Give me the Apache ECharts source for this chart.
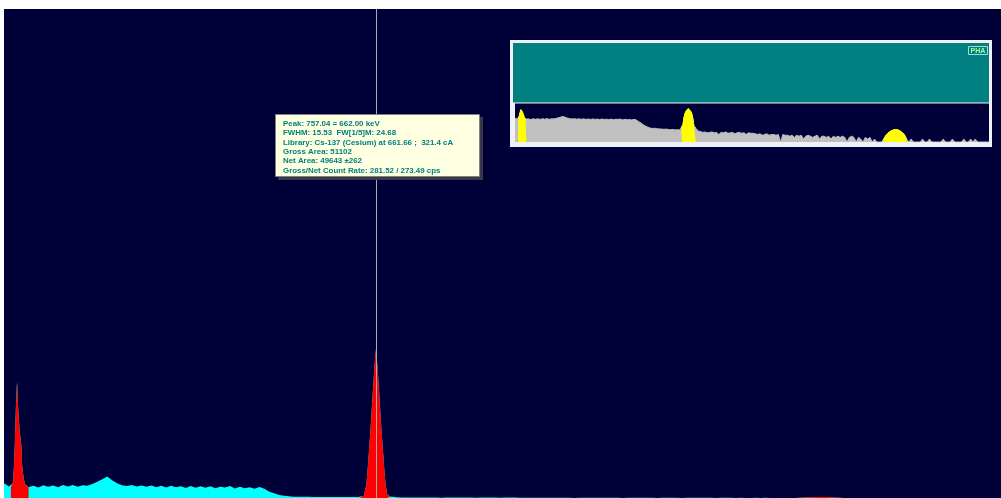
<!DOCTYPE html>
<html><head><meta charset="utf-8">
<script src="https://cdn.jsdelivr.net/npm/echarts@6/dist/echarts.min.js"></script>
<style>html,body{margin:0;padding:0;background:#fff;overflow:hidden}#c{width:1001px;height:498px;}</style>
</head><body><div id="c"></div>
<script>
// ---- data (channels / counts) ----
const binStart = 0;      // first continuum channel
const binWidth = 10;     // channel spacing of continuum samples
const continuumCounts = [
  300,235,230,230,225,205,250,215,262,228,
  258,222,265,235,268,230,262,250,285,330,
  385,440,365,300,262,245,268,235,258,228,
  255,220,250,215,248,222,240,205,245,212,
  238,208,240,200,232,215,245,195,228,200,
  222,190,225,190,130,95,62,45,35,28,
  25,27,24,23,22,21,22,20,19,20,
  18,19,18,18,18,18,18,18,18,16,
  14,12,10,11,9,10,11,9,10,6,
  10,9,11,8,9,10,7,9,10,8,
  9,6,9,8,8,7,6,7,5,6,
  7,5,6,6,5,6,1,6,5,5,
  4,5,3,5,4,5,2,4,5,4,
  3,4,5,2,4,4,3,4,2,4,
  3,4,3,4,3,1,3,4,3,1,
  3,2,1,3,2,3,1,2,1,1,
  1,2,5,9,13,17,20,19,15,10,
  6,2,1,2,1,1,1,1,2,1,
  1,2,1,1,1,1,1,2,1,1,
  1,2,1,1,1,1,2,1,1,2,
  1,2,1,1,1,1,1,1
];
const leftPeakCh     = [14,18,20,22,24,26,27,28,30,32,34,35,37,40,43,46,50];
const leftPeakCounts = [230,300,600,1120,1800,2300,2360,2000,1640,1360,1400,1120,660,400,280,240,225];
const csPeakCh     = [726,729,732,734,737,739,741,743,746,748,750,752,754,756,757,758,760,762,764,766,768,771,773,775,777,780,782,786,790];
const csPeakCounts = [30,32,40,70,250,450,720,1000,1420,1750,2080,2400,2700,2950,3040,2950,2700,2400,2080,1750,1420,1000,720,450,250,70,40,32,28];
const roiRanges = [[14,50],[726,790],[1610,1710]];
const cursorChannel = 757.04;
const infoLines = [
  'Peak: 757.04 = 662.00 keV',
  'FWHM: 15.53  FW[1/5]M: 24.68',
  'Library: Cs-137 (Cesium) at 661.66 ;  321.4 cA',
  'Gross Area: 51102',
  'Net Area: 49643 \u00b1262',
  'Gross/Net Count Rate: 281.52 / 273.49 cps'
];
const insetLabel = 'PHA';
const mainXMax = 2029, insetXMax = 2070;
const mainYMax = 10000, insetYMin = 1, insetYMax = 10000;

// ---- build spectrum points ----
const peaks = [[leftPeakCh, leftPeakCounts], [csPeakCh, csPeakCounts]];
const pts = [];
continuumCounts.forEach((v, i) => {
  const ch = binStart + i * binWidth;
  if (!peaks.some(p => ch >= p[0][0] && ch <= p[0][p[0].length - 1])) pts.push([ch, v]);
});
peaks.forEach(p => p[0].forEach((ch, j) => pts.push([ch, p[1][j]])));
pts.sort((a, b) => a[0] - b[0]);
const roiData = roiRanges.map(r => pts.filter(p => p[0] >= r[0] && p[0] <= r[1]));

const NAVY = '#000038';
const chart = echarts.init(document.getElementById('c'), null, {renderer: 'canvas'});

function areaSeries(data, xi, color, lineW, z, extra) {
  return Object.assign({
    type: 'line', xAxisIndex: xi, yAxisIndex: xi, data: data,
    symbol: 'none', showSymbol: false, silent: true, animation: false, z: z,
    lineStyle: {width: lineW, color: color},
    areaStyle: {color: color, opacity: 1, origin: 'start'}
  }, extra || {});
}

const series = [];
series.push(areaSeries(pts, 0, '#00ffff', 0, 2));
roiData.forEach((d, k) => {
  const extra = k === 1 ? {
    markLine: {
      silent: true, animation: false, symbol: ['none', 'none'],
      label: {show: false},
      lineStyle: {color: '#a8a8b0', width: 1, type: 'solid'},
      data: [{xAxis: cursorChannel}]
    }
  } : {};
  series.push(areaSeries(d, 0, '#ff0000', 0, 3, extra));
});
series.push(areaSeries(pts, 1, '#c0c0c0', 1, 2));
roiData.forEach(d => series.push(areaSeries(d, 1, '#ffff00', 1, 3)));

const graphics = [
  {type: 'rect', z: 0, shape: {x: 4, y: 9, width: 997, height: 489}, style: {fill: NAVY}},
  {type: 'rect', z: 0, shape: {x: 510, y: 40, width: 482, height: 107}, style: {fill: '#f0f0f8'}},
  {type: 'rect', z: 0, shape: {x: 513, y: 43, width: 476, height: 59}, style: {fill: '#008080'}},
  {type: 'rect', z: 0, shape: {x: 513, y: 102, width: 476, height: 1}, style: {fill: '#7fb8b8'}},
  {type: 'rect', z: 0, shape: {x: 515, y: 103.5, width: 474, height: 38.5}, style: {fill: NAVY}},
  {type: 'rect', z: 5, shape: {x: 968.5, y: 46.5, width: 19, height: 8}, style: {fill: 'none', stroke: '#a8dcc8', lineWidth: 1}},
  {type: 'text', z: 6, style: {text: insetLabel, x: 978, y: 50.8, fill: '#a0ffa0', font: 'bold 7px "Liberation Sans"', align: 'center', verticalAlign: 'middle'}},
  {type: 'rect', z: 100, shape: {x: 278, y: 117, width: 205, height: 63}, style: {fill: '#383848'}},
  {type: 'rect', z: 101, shape: {x: 275.5, y: 114.5, width: 204, height: 62}, style: {fill: '#ffffe1', stroke: '#808080', lineWidth: 1}}
];
const lineYs = [124, 133.3, 142.7, 152, 161.3, 170.7];
infoLines.forEach((t, i) => graphics.push({
  type: 'text', z: 102,
  style: {text: t, x: 283, y: lineYs[i], fill: '#008080', font: 'bold 7.9px "Liberation Sans"', align: 'left', verticalAlign: 'middle'}
}));

chart.setOption({
  animation: false,
  backgroundColor: '#ffffff',
  grid: [
    {left: 4, top: 9, width: 997, height: 489, show: false},
    {left: 515, top: 103.5, width: 474, height: 38.5, show: false}
  ],
  xAxis: [
    {type: 'value', gridIndex: 0, min: 0, max: mainXMax, show: false},
    {type: 'value', gridIndex: 1, min: 0, max: insetXMax, show: false}
  ],
  yAxis: [
    {type: 'value', gridIndex: 0, min: 0, max: mainYMax, show: false},
    {type: 'log', gridIndex: 1, min: insetYMin, max: insetYMax, logBase: 10, show: false}
  ],
  graphic: graphics,
  series: series
});
</script></body></html>
